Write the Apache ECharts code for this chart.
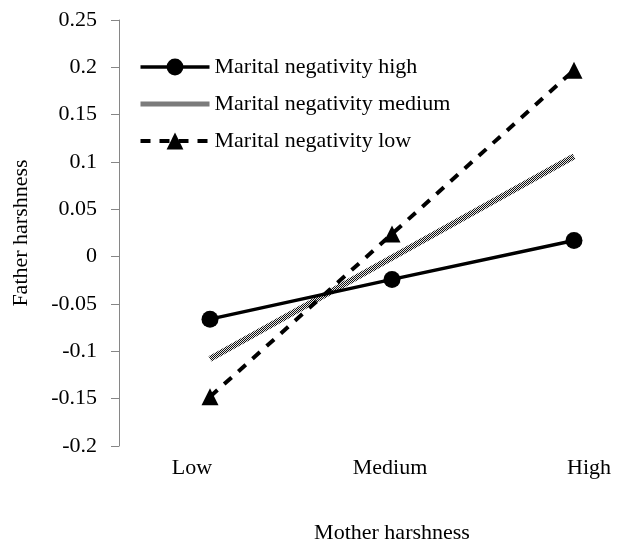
<!DOCTYPE html>
<html>
<head>
<meta charset="utf-8">
<script src="https://cdn.jsdelivr.net/npm/echarts@6/dist/echarts.min.js"></script>
<style>
  html, body { margin: 0; padding: 0; background: #fff; }
  #chart { width: 619px; height: 552px; }
</style>
</head>
<body>
<div id="chart"></div>
<script>
// mother harshness levels on the x axis
const categories = ['Low', 'Medium', 'High']
const yTicks = { min: -0.2, max: 0.25, step: 0.05 }

// father harshness by marital negativity
const negHigh = [-0.066, -0.024, 0.017]
const negMedium = [-0.108, -0.001, 0.106]
const negLow = [-0.148, 0.024, 0.197]

const seriesNames = ['Marital negativity high', 'Marital negativity medium', 'Marital negativity low']

const font = '"Liberation Serif", "Times New Roman", serif'

// checkered fill for the medium line
function checker () {
  const c = document.createElement('canvas')
  c.width = 2
  c.height = 2
  const ctx = c.getContext('2d')
  ctx.fillStyle = '#e6e6e6'
  ctx.fillRect(0, 0, 2, 2)
  ctx.fillStyle = '#111'
  ctx.fillRect(0, 0, 1, 1)
  ctx.fillRect(1, 1, 1, 1)
  return { image: c, repeat: 'repeat' }
}
const checkPattern = checker()

const chart = echarts.init(document.getElementById('chart'))
const option = {
  backgroundColor: '#fff',
  animation: false,
  textStyle: { fontFamily: font, color: '#000' },
  legend: {
    orient: 'vertical',
    left: 138,
    top: 56,
    padding: 0,
    itemWidth: 69,
    itemHeight: 21,
    itemGap: 15,
    textStyle: { fontFamily: font, fontSize: 22, color: '#000' },
    data: [
      { name: seriesNames[0], lineStyle: { color: '#000', width: 3.5 } },
      { name: seriesNames[1], lineStyle: { color: checkPattern, width: 5 } },
      { name: seriesNames[2], lineStyle: { color: '#000', width: 4, type: [10, 9] } }
    ]
  },
  grid: {
    left: 119,
    width: 546,
    top: 20,
    bottom: 106,
    outerBoundsMode: 'none'
  },
  xAxis: {
    type: 'category',
    data: categories,
    boundaryGap: true,
    name: 'Mother harshness',
    nameLocation: 'middle',
    nameGap: 76,
    nameTextStyle: { fontFamily: font, fontSize: 22, color: '#000' },
    axisLine: { show: false },
    axisTick: { show: false },
    axisLabel: {
      margin: 11,
      fontFamily: font,
      fontSize: 22,
      color: '#000',
      formatter: (v) => {
        const key = v === 'Low' ? 'l' : (v === 'High' ? 'h' : 'm')
        return '{' + key + '|' + v + '}'
      },
      rich: {
        l: { fontFamily: font, fontSize: 22, color: '#000', padding: [0, 36, 0, 0] },
        m: { fontFamily: font, fontSize: 22, color: '#000', padding: [0, 4, 0, 0] },
        h: { fontFamily: font, fontSize: 22, color: '#000', padding: [0, 0, 0, 30] }
      }
    }
  },
  yAxis: {
    type: 'value',
    min: yTicks.min,
    max: yTicks.max,
    interval: yTicks.step,
    name: 'Father harshness',
    nameLocation: 'middle',
    nameGap: 87,
    nameTextStyle: { fontFamily: font, fontSize: 22, color: '#000' },
    axisLine: { show: true, lineStyle: { color: '#868686', width: 1 } },
    axisTick: { show: true, length: 8, lineStyle: { color: '#868686' } },
    splitLine: { show: false },
    axisLabel: {
      margin: 22,
      fontFamily: font,
      fontSize: 22,
      color: '#000'
    }
  },
  series: [
    {
      name: seriesNames[0],
      type: 'line',
      data: negHigh,
      symbol: 'circle',
      symbolSize: 17,
      itemStyle: { color: '#000' },
      lineStyle: { color: '#000', width: 3.5 },
      z: 3
    },
    {
      name: seriesNames[1],
      type: 'line',
      data: negMedium,
      symbol: 'none',
      itemStyle: { color: 'rgba(0,0,0,0)' },
      lineStyle: { color: checkPattern, width: 6 },
      z: 2
    },
    {
      name: seriesNames[2],
      type: 'line',
      data: negLow,
      symbol: 'triangle',
      symbolSize: 17,
      itemStyle: { color: '#000' },
      lineStyle: { color: '#000', width: 4, type: [10, 9] },
      z: 4
    }
  ]
}
chart.setOption(option)
</script>
</body>
</html>
